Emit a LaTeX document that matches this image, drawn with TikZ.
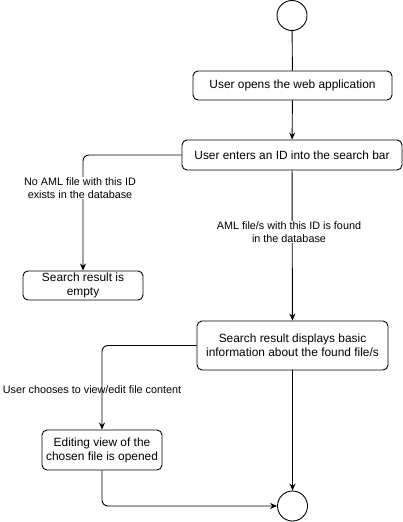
\documentclass[tikz,border=0pt]{standalone}
\usepackage{fontspec}
\setmainfont{Liberation Sans}
\usepackage{tikz}
\usetikzlibrary{positioning, shapes, arrows.meta, calc}

\tikzset{
    activity/.style={draw, rounded corners=5pt, align=center, line width=0.9pt, inner sep=2pt, font=\fontsize{11.9}{14}\selectfont},
    endpoint/.style={draw, circle, minimum size=30pt, inner sep=0pt, line width=0.9pt},
    flow/.style={line width=0.9pt, rounded corners=6pt, -{Stealth[length=7pt, width=6pt]}},
    guard/.style={align=center, fill=white, inner sep=1pt, font=\fontsize{10.8}{12.5}\selectfont}
}

\begin{document}
\begin{tikzpicture}[x=1pt, y=-1pt]
            \useasboundingbox (0,0) rectangle (403,522);
            
            % start and end
            \node (start) at (292, 15.5) [endpoint] {};
            \node (finish) at (292.5, 506) [endpoint] {};
            
            \node (open) at (292.5, 85.5) [activity, minimum width=199pt, minimum height=29pt] {User opens the web application};
            \node (enter) at (292, 155) [activity, minimum width=220pt, minimum height=30pt] {User enters an ID into the search bar};
            \node (empty) at (83, 285.5) [activity, minimum width=120pt, minimum height=29pt] {Search result is\\empty};
            \node (found) at (292.5, 345.5) [activity, minimum width=191pt, minimum height=49pt] {Search result displays basic\\information about the found file/s};
            \node (edit) at (102, 450) [activity, minimum width=120pt, minimum height=40pt] {Editing view of the\\chosen file is opened};
            
            % connectors
            \draw[line width=0.9pt] (start) -- (open);
            \draw[flow] (open) -- (enter);
            \draw[flow] (enter.west) -| (empty.north);
            \draw[flow] (enter) -- (found);
            \draw[flow] (found.west) -| (edit.north);
            \draw[flow] (edit.south) |- (finish.west);
            \draw[flow] (found) -- (finish);
            
            % guards
            \node (noid) at (80, 188) [guard] {No AML file with this ID\\exists in the database};
            \node (hasid) at (289, 232) [guard] {AML file/s with this ID is found\\in the database};
            \node (view) at (92, 390) [guard, fill=none] {User chooses to view/edit file content};
            
        \end{tikzpicture}
\end{document}
